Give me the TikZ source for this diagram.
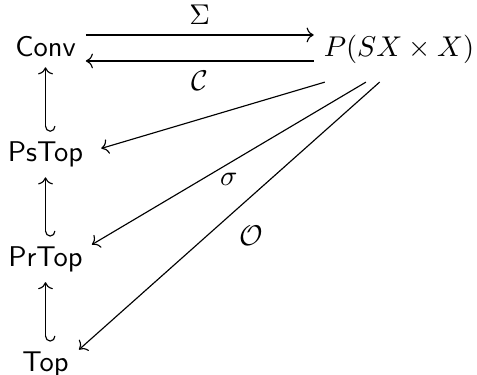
\documentclass[tikz,border=0pt]{standalone}
\usepackage{amsmath,amssymb}
\usepackage{tikz}
\usetikzlibrary{arrows.meta,calc,positioning}

\begin{document}
\begin{tikzpicture}[>=To]
  \useasboundingbox (0,0) rectangle (5.87,4.61);
  \foreach \y/\name in {3.91/Conv,2.62/PsTop,1.33/PrTop,0.04/Top} {\node[anchor=base] (\name) at (0.56,\y) {\textsf{\name}};}
  \node[anchor=base] (P) at (4.91,3.91) {$P(SX\times X)$};
  \foreach \a/\b in {PsTop/Conv,PrTop/PsTop,Top/PrTop} {\draw[{Hooks[left,width=7pt,length=2pt]}->] (\a) -- (\b);}
  \draw[->] ([yshift=4.2pt]Conv.east) -- node[above] {$\Sigma$} ([yshift=4.2pt]Conv.east -| P.west);
  \draw[->] ([yshift=-4.9pt]Conv.east -| P.west) -- node[below] {$\mathcal{C}$} ([yshift=-4.9pt]Conv.east);
  \begin{scope}[transform canvas={shift={(2.8pt,-2.8pt)}}]
    \draw[->] (P) -- (PsTop);
    \draw[->] (P) -- node[below] {$\sigma$} (PrTop);
    \draw[->] (P) -- node[below right] {$\mathcal{O}$} (Top);
  \end{scope}
\end{tikzpicture}
\end{document}
